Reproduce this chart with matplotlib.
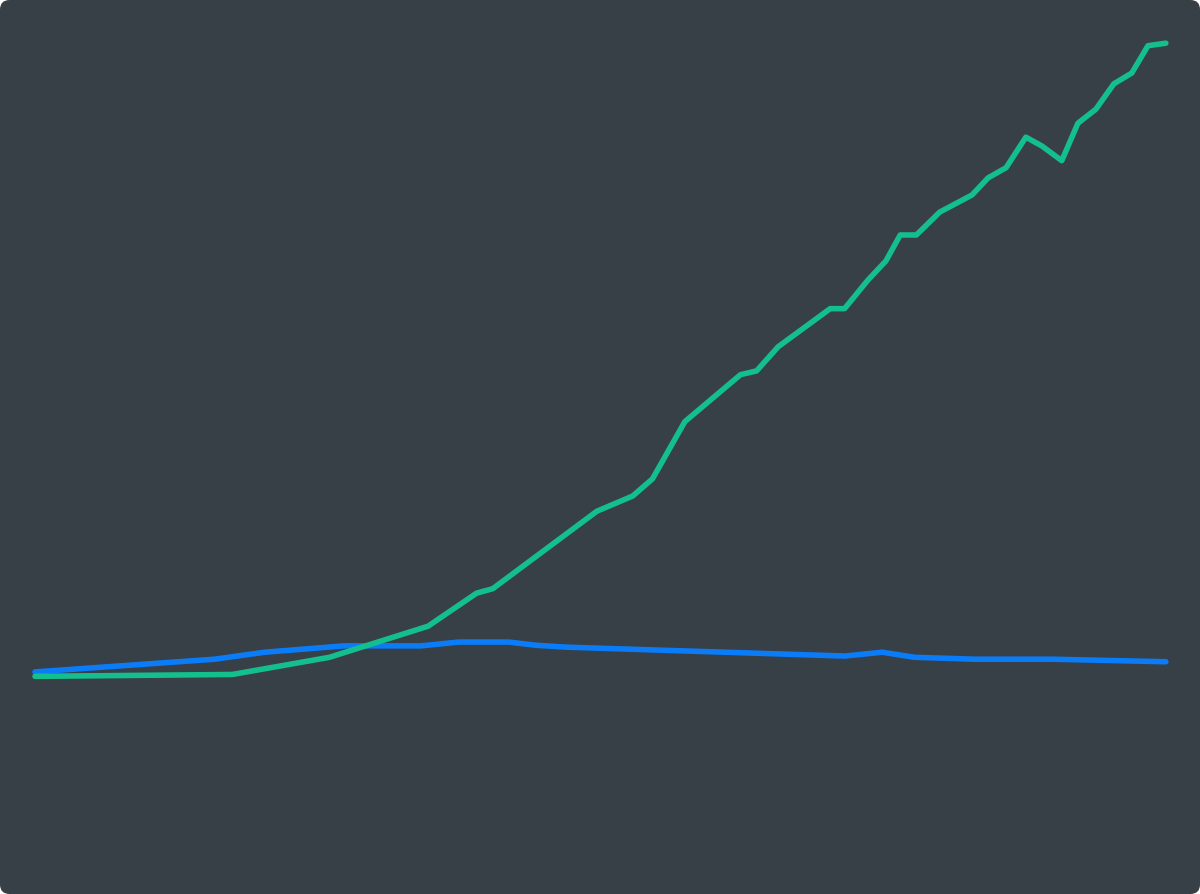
import matplotlib
matplotlib.use("Agg")
import matplotlib.pyplot as plt
from matplotlib.patches import FancyBboxPatch

# years (x) and index values (y)
green_years = [1960, 1971, 1976.4, 1981.9, 1984.6, 1985.5, 1991.3, 1993.3, 1994.4,
               1996.2, 1999.3, 2000.2, 2001.4, 2004.3, 2005.1, 2006.4, 2007.4,
               2008.2, 2009.1, 2010.4, 2012.2, 2013.1, 2014.1, 2015.2, 2016.1,
               2017.2, 2018.1, 2019.1, 2020.1, 2021.1, 2022.0, 2023]
green_values = [0.1, 0.4, 3.1, 8.0, 13.2, 13.9, 26.1, 28.5, 31.2,
                40.2, 47.6, 48.2, 52.0, 58.0, 58.0, 62.5, 65.5,
                69.6, 69.6, 73.2, 75.9, 78.6, 80.2, 85.0, 83.6,
                81.3, 87.2, 89.4, 93.4, 95.1, 99.4, 99.8]

blue_years = [1960, 1970.0, 1972.8, 1977.2, 1981.5, 1983.6, 1986.4, 1987.9,
              1989.6, 2005.1, 2007.2, 2009.0, 2012.4, 2016.7, 2023]
blue_values = [0.8, 2.8, 3.9, 4.9, 4.9, 5.5, 5.5, 5.0,
               4.7, 3.3, 3.9, 3.1, 2.8, 2.8, 2.4]

bg = '#373f47'

fig = plt.figure(figsize=(12, 8.94), dpi=100)
fig.patch.set_facecolor('white')

# rounded dark card behind everything
card = FancyBboxPatch((0, 0), 1, 1, boxstyle="round,pad=0,rounding_size=0.008",
                      transform=fig.transFigure, facecolor=bg, edgecolor='none',
                      mutation_aspect=1200 / 894, zorder=-10)
fig.patches.append(card)

ax = fig.add_axes([0, 0, 1, 1])
ax.set_facecolor('none')
ax.axis('off')

ax.plot(blue_years, blue_values, color='#0b7cf7', lw=4, solid_capstyle='round')
ax.plot(green_years, green_values, color='#13c08d', lw=4, solid_capstyle='round')

ax.set_xlim(1958.05, 2024.90)
ax.set_ylim(-34.17, 106.6)

fig.savefig('out.png', dpi=100, facecolor=fig.get_facecolor())
